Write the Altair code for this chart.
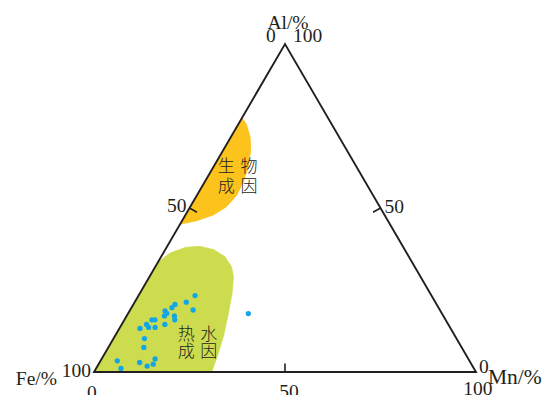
import altair as alt
import pandas as pd

# ---- data (ternary compositions, %) ----
# triangle corners: Fe-corner, Mn-corner, Al-corner
frame_mn = [0, 100, 0]
frame_al = [0, 0, 100]

# sample points
pt_fe = [61.9, 65.2, 64.6, 68.5, 69.8, 72.1, 72.0, 73.0, 70.4, 70.9, 74.2, 76.1, 76.9,
         79.0, 78.9, 77.2, 81.3, 81.7, 83.2, 82.0, 83.3, 85.2, 86.6, 92.2, 92.4, 50.7]
pt_mn = [14.8, 13.5, 16.5, 10.9, 10.6, 9.3, 10.1, 9.9, 12.5, 13.2, 11.3, 8.0, 7.2,
         6.5, 7.5, 9.2, 5.4, 8.1, 9.3, 14.0, 14.3, 13.0, 10.5, 4.4, 6.5, 31.5]
pt_al = [23.3, 21.3, 18.9, 20.6, 19.6, 18.6, 17.9, 17.1, 17.1, 15.9, 14.5, 15.9, 15.9,
         14.5, 13.6, 13.6, 13.3, 10.2, 7.5, 4.0, 2.4, 1.8, 2.9, 3.4, 1.1, 17.8]

# hydrothermal field outline
hydro_mn = [0, 0, 0.9, 1.8, 5.1, 8.6, 12.7, 16.8, 20.0, 22.0, 24.1, 26.2, 28.4, 29.7, 30.8]
hydro_al = [0, 33.2, 34.9, 36.3, 38.0, 38.3, 37.3, 35.1, 32.0, 29.0, 24.1, 18.0, 11.0, 5.5, 0]

# biogenic field outline
bio_mn = [0, 1.0, 2.3, 5.0, 7.2, 9.1, 10.1, 10.4, 9.5, 7.3, 3.8, 0.7, 0]
bio_al = [77.4, 76.6, 75.3, 71.7, 67.7, 62.6, 58.0, 54.0, 50.4, 47.9, 46.1, 45.3, 45.0]

# 50% ticks (start -> end, pointing inward)
tick_mn = [50, 0, 50]
tick_al = [0, 50, 50]
tick_mn2 = [48.7, 2.6, 48.7]
tick_al2 = [2.6, 48.7, 48.7]

# region labels
bio_rows = ["生\u2004物", "成\u2004因"]
bio_row_mn = [6.4, 9.4]
bio_row_al = [62.4, 56.4]
hydro_rows = ["热\u2004水", "成\u2004因"]
hydro_row_mn = [21.4, 24.1]
hydro_row_al = [11.4, 6.0]


def tx(mn, al):
    return mn + al / 2.0


X = alt.Scale(domain=[-22.513, 118.063], nice=False, zero=False)
Y = alt.Scale(domain=[-7.01, 110.98], nice=False, zero=False)
INK = "#231f20"
SERIF = "Liberation Serif"
CJK = "Noto Sans CJK SC"


def xy(df):
    return dict(x=alt.X("x:Q", scale=X, axis=None), y=alt.Y("y:Q", scale=Y, axis=None))


def poly(mn, al, color):
    df = pd.DataFrame({"i": range(len(mn)), "x": [tx(m, a) for m, a in zip(mn, al)], "y": al})
    return alt.Chart(df).mark_line(
        interpolate="linear-closed", fill=color, stroke=color, strokeWidth=0.8
    ).encode(order=alt.Order("i:Q"), **xy(df))


green = poly(hydro_mn, hydro_al, "#cddc4f")
yellow = poly(bio_mn, bio_al, "#fbc31c")

frame_df = pd.DataFrame({"i": range(3), "x": [tx(m, a) for m, a in zip(frame_mn, frame_al)],
                         "y": frame_al})
frame = alt.Chart(frame_df).mark_line(
    interpolate="linear-closed", color=INK, strokeWidth=1.9, strokeJoin="miter"
).encode(order=alt.Order("i:Q"), **xy(frame_df))

tick_df = pd.DataFrame({
    "x": [tx(m, a) for m, a in zip(tick_mn, tick_al)], "y": tick_al,
    "x2": [tx(m, a) for m, a in zip(tick_mn2, tick_al2)], "y2": tick_al2,
})
ticks = alt.Chart(tick_df).mark_rule(color=INK, strokeWidth=1.6).encode(
    x=alt.X("x:Q", scale=X, axis=None), y=alt.Y("y:Q", scale=Y, axis=None),
    x2="x2:Q", y2="y2:Q")

pts_df = pd.DataFrame({"Fe": pt_fe, "Mn": pt_mn, "Al": pt_al})
pts_df["x"] = [tx(m, a) for m, a in zip(pt_mn, pt_al)]
pts_df["y"] = pts_df["Al"]
points = alt.Chart(pts_df).mark_circle(color="#13a6e6", opacity=1, size=28).encode(**xy(pts_df))


def label(text, mn, al, dx=0, dy=0, align="center", size=19.5, font=SERIF,
          baseline="alphabetic", weight="normal"):
    df = pd.DataFrame({"t": [text], "x": [tx(mn, al)], "y": [al]})
    return alt.Chart(df).mark_text(
        align=align, baseline=baseline, dx=dx, dy=dy, font=font, fontSize=size,
        fontWeight=weight, color=INK
    ).encode(text="t:N", **xy(df))


labels = [
    # top corner (Al = 100)
    label("Al/%", 0, 100, dx=3, dy=-15),
    label("0", 0, 100, dx=-14, dy=-2),
    label("100", 0, 100, dx=8, dy=-2, align="left"),
    # Fe corner
    label("100", 0, 0, dx=-3, dy=5, align="right"),
    label("Fe/%", 0, 0, dx=-37, dy=13, align="right"),
    label("0", 0, 0, dx=-2, dy=27),
    # Mn corner
    label("0", 100, 0, dx=8, dy=1),
    label("100", 100, 0, dx=2, dy=23),
    label("Mn/%", 100, 0, dx=12, dy=12, align="left", size=21.5),
    # mid ticks
    label("50", 50, 0, dx=4, dy=26),
    label("50", 0, 50, dx=-3, dy=4, align="right"),
    label("50", 50, 50, dx=4, dy=5, align="left"),
]
for t, m, a in zip(bio_rows, bio_row_mn, bio_row_al):
    labels.append(label(t, m, a, size=17, font=CJK, baseline="middle", weight=300))
for t, m, a in zip(hydro_rows, hydro_row_mn, hydro_row_al):
    labels.append(label(t, m, a, size=17, font=CJK, baseline="middle", weight=300))

chart = alt.layer(green, yellow, points, frame, ticks, *labels).properties(
    width=537, height=387, padding=0, autosize=alt.AutoSizeParams(type="none")
).configure_view(stroke=None)

chart.save("out.html", embed_options={"renderer": "svg", "actions": False})
